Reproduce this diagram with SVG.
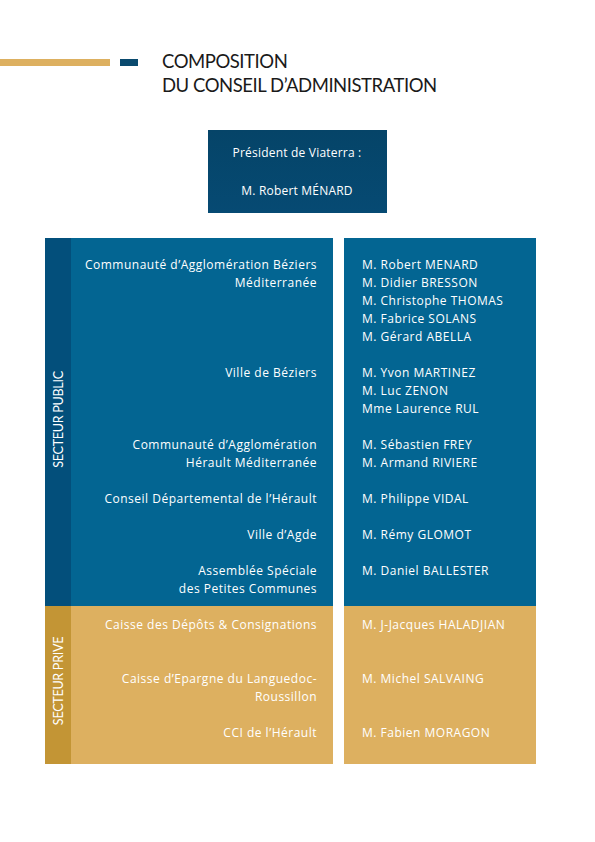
<svg xmlns="http://www.w3.org/2000/svg" width="595" height="842" viewBox="0 0 595 842">
<style>
.t{font-family:"Open Sans","Liberation Sans",sans-serif;font-size:12px;fill:#ffffff;letter-spacing:0.5px}
.r{text-anchor:end}
.h{font-family:"Lato","Liberation Sans",sans-serif;font-size:18.5px;fill:#1a1a1a;letter-spacing:-0.45px}
.v{font-family:"Lato","Liberation Sans",sans-serif;font-size:12.6px;fill:#ffffff;text-anchor:middle;letter-spacing:-0.3px}
</style>
<defs>
<linearGradient id="pg" x1="0" y1="0" x2="0" y2="1">
<stop offset="0" stop-color="#054468"/>
<stop offset="1" stop-color="#064a73"/>
</linearGradient>
</defs>
<rect width="595" height="842" fill="#ffffff"/>
<g id="header">
<rect x="0" y="59" width="110" height="7" fill="#DDB060"/>
<rect x="120" y="59" width="18" height="7" fill="#0A4A6E"/>
<text class="h" x="162" y="68">COMPOSITION</text>
<text class="h" x="162" y="92">DU CONSEIL D’ADMINISTRATION</text>
</g>
<g id="president">
<rect x="208" y="130" width="179" height="83" fill="url(#pg)"/>
<text class="t" x="297" y="157" text-anchor="middle" style="letter-spacing:0.2px">Président de Viaterra :</text>
<text class="t" x="297" y="195" text-anchor="middle" style="letter-spacing:0.2px">M. Robert MÉNARD</text>
</g>
<g id="public-left">
<rect x="45" y="238" width="288" height="368" fill="#036592"/>
<rect x="45" y="238" width="26" height="368" fill="#034F7B"/>
<text class="v" transform="translate(62.5 419.5) rotate(-90)">SECTEUR PUBLIC</text>
<text class="t r" x="317" y="268.5">Communauté d’Agglomération Béziers</text>
<text class="t r" x="317" y="286.5">Méditerranée</text>
<text class="t r" x="317" y="376.5">Ville de Béziers</text>
<text class="t r" x="317" y="448.5">Communauté d’Agglomération</text>
<text class="t r" x="317" y="466.5">Hérault Méditerranée</text>
<text class="t r" x="317" y="502.5">Conseil Départemental de l’Hérault</text>
<text class="t r" x="317" y="538.5">Ville d’Agde</text>
<text class="t r" x="317" y="574.5">Assemblée Spéciale</text>
<text class="t r" x="317" y="592.5">des Petites Communes</text>
</g>
<g id="public-right">
<rect x="344" y="238" width="192" height="368" fill="#036592"/>
<text class="t" x="362" y="268.5">M. Robert MENARD</text>
<text class="t" x="362" y="286.5">M. Didier BRESSON</text>
<text class="t" x="362" y="304.5">M. Christophe THOMAS</text>
<text class="t" x="362" y="322.5">M. Fabrice SOLANS</text>
<text class="t" x="362" y="340.5">M. Gérard ABELLA</text>
<text class="t" x="362" y="376.5">M. Yvon MARTINEZ</text>
<text class="t" x="362" y="394.5">M. Luc ZENON</text>
<text class="t" x="362" y="412.5">Mme Laurence RUL</text>
<text class="t" x="362" y="448.5">M. Sébastien FREY</text>
<text class="t" x="362" y="466.5">M. Armand RIVIERE</text>
<text class="t" x="362" y="502.5">M. Philippe VIDAL</text>
<text class="t" x="362" y="538.5">M. Rémy GLOMOT</text>
<text class="t" x="362" y="574.5">M. Daniel BALLESTER</text>
</g>
<g id="prive-left">
<rect x="45" y="606" width="288" height="158" fill="#DDB060"/>
<rect x="45" y="606" width="26" height="158" fill="#C39535"/>
<text class="v" transform="translate(62.5 681) rotate(-90)">SECTEUR PRIVE</text>
<text class="t r" x="317" y="628.5">Caisse des Dépôts &amp; Consignations</text>
<text class="t r" x="317" y="682.5">Caisse d’Epargne du Languedoc-</text>
<text class="t r" x="317" y="700.5">Roussillon</text>
<text class="t r" x="317" y="736.5">CCI de l’Hérault</text>
</g>
<g id="prive-right">
<rect x="344" y="606" width="192" height="158" fill="#DDB060"/>
<text class="t" x="362" y="628.5">M. J-Jacques HALADJIAN</text>
<text class="t" x="362" y="682.5">M. Michel SALVAING</text>
<text class="t" x="362" y="736.5">M. Fabien MORAGON</text>
</g>
</svg>
